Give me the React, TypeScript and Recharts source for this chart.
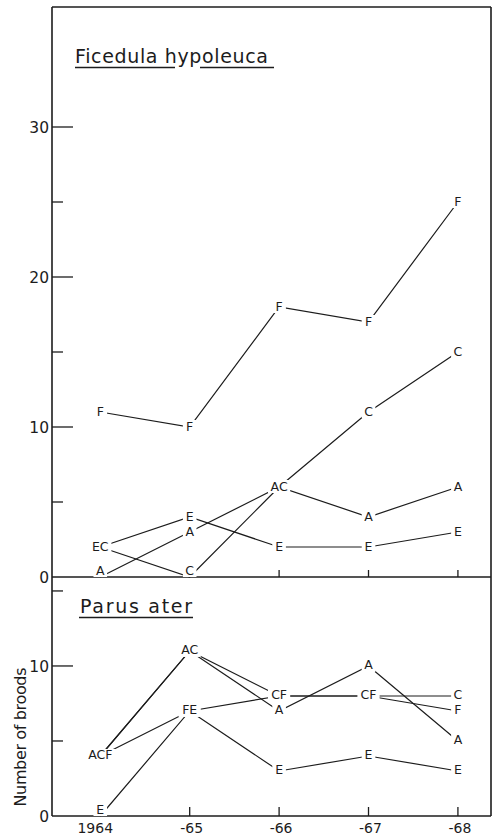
import React from 'react'
import { ComposedChart, Line, Scatter, XAxis, YAxis } from 'recharts'

const YEARS = [1964, 1965, 1966, 1967, 1968]
const YEAR_LABELS = ['1964', '-65', '-66', '-67', '-68']

// Ficedula hypoleuca, number of broods per habitat letter
const FICEDULA_A = [0, 3, 6, 4, 6]
const FICEDULA_C = [2, 0, 6, 11, 15]
const FICEDULA_E = [2, 4, 2, 2, 3]
const FICEDULA_F = [11, 10, 18, 17, 25]
const FICEDULA_ORDER = ['A', 'E', 'C', 'F']
const FICEDULA_TICKS = [0, 5, 10, 15, 20, 25, 30]

// Parus ater
const PARUS_A = [4, 11, 7, 10, 5]
const PARUS_C = [4, 11, 8, 8, 8]
const PARUS_E = [0, 7, 3, 4, 3]
const PARUS_F = [4, 7, 8, 8, 7]
const PARUS_ORDER = ['A', 'C', 'F', 'E']
const PARUS_TICKS = [0, 5, 10, 15]

const INK = '#1c1c1c'
const FONT = '"DejaVu Sans", sans-serif'
const X_DOMAIN = [1963.46, 1968.37]

type Series = Record<string, number[]>

const buildRows = (series: Series) =>
  YEARS.map((year, i) => {
    const row: Record<string, number> = { year }
    Object.keys(series).forEach((k) => (row[k] = series[k][i]))
    return row
  })

// points that share a value are written as one label, e.g. "EC"
const buildLabels = (series: Series, order: string[]) => {
  const out: { year: number; value: number; text: string }[] = []
  YEARS.forEach((year, i) => {
    const groups = new Map<number, string>()
    order.forEach((k) => {
      const v = series[k][i]
      groups.set(v, (groups.get(v) ?? '') + k)
    })
    groups.forEach((text, value) => out.push({ year, value, text }))
  })
  return out
}

// years where a letter sits on the zero line, so no tick is drawn there
const zeroYears = (series: Series) =>
  YEARS.filter((_, i) => Object.keys(series).some((k) => series[k][i] === 0))

const LeftTick = (props: any) => {
  const { x, y, payload } = props
  const v = payload.value
  const major = v % 10 === 0
  return (
    <g>
      {v !== 0 && (
        <line x1={x} x2={x + (major ? 21 : 11)} y1={y} y2={y} stroke={INK} strokeWidth={1.3} />
      )}
      {major && (
        <text x={x - 3} y={y} dy="0.36em" textAnchor="end" fontSize={15.5} fontFamily={FONT} fill={INK}>
          {v}
        </text>
      )}
    </g>
  )
}

const RightTick = (props: any) => {
  const { x, y, payload } = props
  const v = payload.value
  if (v === 0) return <g />
  const len = v % 10 === 0 ? 21 : 13
  return <line x1={x - len} x2={x} y1={y} y2={y} stroke={INK} strokeWidth={1.3} />
}

const UpperBottomTick = (props: any) => {
  const { x, y, payload, skip } = props
  if (skip.includes(payload.value)) return <g />
  return <line x1={x} x2={x} y1={y} y2={y - 7} stroke={INK} strokeWidth={1.3} />
}

const LowerBottomTick = (props: any) => {
  const { x, y, index, payload, skip } = props
  return (
    <g>
      {!skip.includes(payload.value) && (
        <line x1={x} x2={x} y1={y} y2={y - 9} stroke={INK} strokeWidth={1.3} />
      )}
      <text
        x={index === 0 ? x - 5 : x + 2}
        y={y + 17}
        textAnchor="middle"
        fontSize={14}
        fontFamily={FONT}
        fill={INK}
      >
        {YEAR_LABELS[index]}
      </text>
    </g>
  )
}

const LetterMark = (props: any) => {
  const { cx, cy, payload } = props
  const w = payload.text.length * 8.6 + 5
  // letters on the zero line stand on it instead of straddling it
  const c = payload.value === 0 ? cy - 6 : cy
  return (
    <g>
      <rect x={cx - w / 2} y={c - 7} width={w} height={13} fill="#fff" />
      <text x={cx} y={c - 1} dy="0.36em" textAnchor="middle" fontSize={12.5} fontFamily={FONT} fill={INK}>
        {payload.text}
      </text>
    </g>
  )
}

const Panel = ({
  series,
  order,
  ticks,
  yMax,
  height,
  margin,
  xHeight,
  upper,
}: {
  series: Series
  order: string[]
  ticks: number[]
  yMax: number
  height: number
  margin: { top: number; right: number; bottom: number; left: number }
  xHeight: number
  upper: boolean
}) => {
  const rows = buildRows(series)
  const labels = buildLabels(series, order)
  const skip = zeroYears(series)
  return (
    <ComposedChart width={498} height={height} data={rows} margin={margin}>
      <XAxis
        dataKey="year"
        type="number"
        domain={X_DOMAIN}
        ticks={YEARS}
        height={xHeight}
        tickSize={0}
        tickMargin={0}
        tickLine={false}
        axisLine={{ stroke: INK, strokeWidth: 1.6 }}
        tick={upper ? <UpperBottomTick skip={skip} /> : <LowerBottomTick skip={skip} />}
        interval={0}
      />
      {upper && (
        <XAxis
          xAxisId="top"
          orientation="top"
          dataKey="year"
          type="number"
          domain={X_DOMAIN}
          height={1}
          tick={false}
          tickLine={false}
          axisLine={{ stroke: INK, strokeWidth: 1.6 }}
        />
      )}
      <YAxis
        yAxisId="left"
        type="number"
        domain={[0, yMax]}
        ticks={ticks}
        width={52}
        tickSize={0}
        tickMargin={0}
        tickLine={false}
        axisLine={{ stroke: INK, strokeWidth: 1.6 }}
        tick={<LeftTick />}
        interval={0}
      />
      <YAxis
        yAxisId="right"
        orientation="right"
        type="number"
        domain={[0, yMax]}
        ticks={ticks}
        width={7}
        tickSize={0}
        tickMargin={0}
        tickLine={false}
        axisLine={{ stroke: INK, strokeWidth: 1.6 }}
        tick={<RightTick />}
        interval={0}
      />
      {Object.keys(series).map((k) => (
        <Line
          key={k}
          yAxisId="left"
          dataKey={k}
          type="linear"
          stroke={INK}
          strokeWidth={1.2}
          dot={false}
          activeDot={false}
          isAnimationActive={false}
        />
      ))}
      <Scatter
        yAxisId="left"
        data={labels}
        dataKey="value"
        shape={<LetterMark />}
        isAnimationActive={false}
      />
    </ComposedChart>
  )
}

export default function App() {
  return (
    <div style={{ position: 'absolute', left: 0, top: 0, width: 498, height: 835, background: '#fff' }}>
      <div style={{ position: 'absolute', left: 0, top: 0 }}>
        <Panel
          series={{ F: FICEDULA_F, C: FICEDULA_C, A: FICEDULA_A, E: FICEDULA_E }}
          order={FICEDULA_ORDER}
          ticks={FICEDULA_TICKS}
          yMax={38}
          height={590}
          margin={{ top: 6, right: 0, bottom: 12, left: 0 }}
          xHeight={1}
          upper
        />
      </div>
      <div style={{ position: 'absolute', left: 0, top: 577 }}>
        <Panel
          series={{ A: PARUS_A, C: PARUS_C, F: PARUS_F, E: PARUS_E }}
          order={PARUS_ORDER}
          ticks={PARUS_TICKS}
          yMax={15.93}
          height={258}
          margin={{ top: 0, right: 0, bottom: 0, left: 0 }}
          xHeight={19}
          upper={false}
        />
      </div>
      <svg
        width={498}
        height={835}
        style={{ position: 'absolute', left: 0, top: 0, pointerEvents: 'none' }}
      >
        <text x={75} y={63} fontSize={19} textLength={193} fontFamily={FONT} fill={INK}>
          Ficedula hypoleuca
        </text>
        <line x1={75} x2={175} y1={67.5} y2={67.5} stroke={INK} strokeWidth={1.3} />
        <line x1={200} x2={274} y1={67.5} y2={67.5} stroke={INK} strokeWidth={1.3} />
        <text x={80} y={613} fontSize={19} textLength={112} fontFamily={FONT} fill={INK}>
          Parus ater
        </text>
        <line x1={79} x2={193} y1={617.5} y2={617.5} stroke={INK} strokeWidth={1.3} />
        <text
          x={20}
          y={737}
          transform="rotate(-90, 20, 737)"
          textAnchor="middle"
          dy="0.36em"
          fontSize={16}
          textLength={139}
          fontFamily={FONT}
          fill={INK}
        >
          Number of broods
        </text>
      </svg>
    </div>
  )
}
